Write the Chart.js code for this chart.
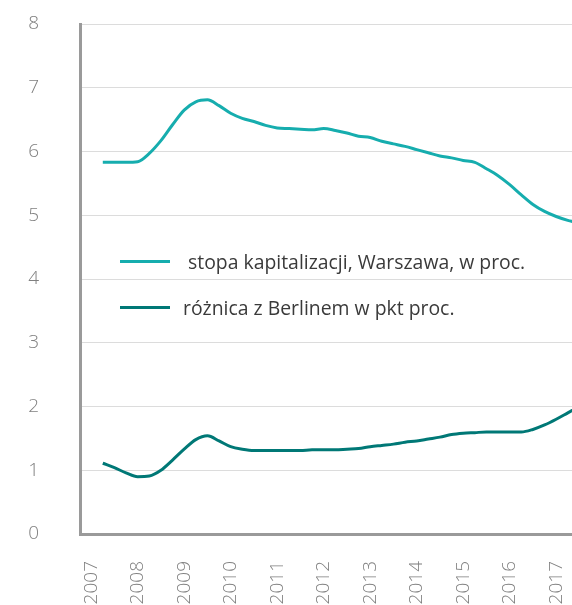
<!DOCTYPE html>
<html>
<head>
<meta charset="utf-8">
<script src="https://cdn.jsdelivr.net/npm/chart.js@4/dist/chart.umd.min.js"></script>
<style>
  html, body { margin: 0; padding: 0; background: #fff; overflow: hidden; }
  .wrap { position: relative; width: 572px; height: 605px; }
  .legend { position: absolute; left: 0; top: 0; font-family: "Open Sans", sans-serif; font-size: 19.4px; color: #3a3a3a; }
  .legend .item { position: absolute; white-space: nowrap; display: flex; align-items: center; height: 26px; }
  .legend .swatch { width: 50px; height: 3px; }
</style>
</head>
<body>
<div class="wrap">
  <canvas id="chart" width="572" height="605"></canvas>
  <div class="legend" id="legend"></div>
</div>
<script>
// quarterly points, as year fractions
const quarters = [
  2007.25, 2007.5, 2007.75,
  2008.0, 2008.25, 2008.5, 2008.75,
  2009.0, 2009.25, 2009.5, 2009.75,
  2010.0, 2010.25, 2010.5, 2010.75,
  2011.0, 2011.25, 2011.5, 2011.75,
  2012.0, 2012.25, 2012.5, 2012.75,
  2013.0, 2013.25, 2013.5, 2013.75,
  2014.0, 2014.25, 2014.5, 2014.75,
  2015.0, 2015.25, 2015.5, 2015.75,
  2016.0, 2016.25, 2016.5, 2016.75,
  2017.0, 2017.25, 2017.5
];
const capRate = [
  5.83, 5.83, 5.83,
  5.84, 5.97, 6.17, 6.42,
  6.65, 6.78, 6.81, 6.72,
  6.60, 6.52, 6.47, 6.41,
  6.37, 6.36, 6.35, 6.34,
  6.36, 6.33, 6.29, 6.24,
  6.22, 6.16, 6.12, 6.08,
  6.03, 5.98, 5.93, 5.90,
  5.86, 5.83, 5.73, 5.62,
  5.48, 5.32, 5.17, 5.06,
  4.98, 4.92, 4.88
];
const berlinSpread = [
  1.11, 1.04, 0.96,
  0.90, 0.91, 1.00, 1.16,
  1.33, 1.48, 1.54, 1.46,
  1.37, 1.33, 1.31, 1.31,
  1.31, 1.31, 1.31, 1.32,
  1.32, 1.32, 1.33, 1.34,
  1.37, 1.39, 1.41, 1.44,
  1.46, 1.49, 1.52, 1.56,
  1.58, 1.59, 1.60, 1.60,
  1.60, 1.60, 1.64, 1.71,
  1.80, 1.90, 2.00
];
const yearTicks = [2007, 2008, 2009, 2010, 2011, 2012, 2013, 2014, 2015, 2016, 2017];
const yTicks = [0, 1, 2, 3, 4, 5, 6, 7, 8];
const seriesNames = ['stopa kapitalizacji, Warszawa, w proc.', 'różnica z Berlinem w pkt proc.'];
const seriesColors = ['#16adae', '#007876'];

const toPoints = (vals) => vals.map((v, i) => ({ x: quarters[i], y: v }));

const tickFont = { family: '"Open Sans", sans-serif', size: 19, weight: 300 };

const chart = new Chart(document.getElementById('chart'), {
  type: 'line',
  data: {
    datasets: [
      {
        label: seriesNames[0],
        data: toPoints(capRate),
        borderColor: seriesColors[0],
        borderWidth: 3,
        pointRadius: 0,
        cubicInterpolationMode: 'monotone',
        fill: false,
      },
      {
        label: seriesNames[1],
        data: toPoints(berlinSpread),
        borderColor: seriesColors[1],
        borderWidth: 3,
        pointRadius: 0,
        cubicInterpolationMode: 'monotone',
        fill: false,
      },
    ],
  },
  options: {
    responsive: false,
    animation: false,
    layout: { padding: { top: 24, right: 0, left: 0, bottom: 0 } },
    plugins: {
      legend: { display: false },
      tooltip: { enabled: false },
    },
    scales: {
      x: {
        type: 'linear',
        min: 2006.76,
        max: 2017.34,
        afterBuildTicks: (scale) => { scale.ticks = yearTicks.map(v => ({ value: v })); },
        afterFit: (scale) => {
          scale.height = 71;
          scale.paddingLeft = 0;
          scale.paddingRight = 0;
        },
        grid: { display: false, drawTicks: false },
        border: { display: true, color: '#9a9a9a', width: 3 },
        ticks: {
          minRotation: 90,
          maxRotation: 90,
          autoSkip: false,
          padding: 27,
          color: '#808080',
          font: tickFont,
          callback: (v) => String(v),
        },
      },
      y: {
        min: 0,
        max: 8,
        afterBuildTicks: (scale) => { scale.ticks = yTicks.map(v => ({ value: v })); },
        afterFit: (scale) => {
          scale.width = 80;
          scale.paddingTop = 0;
          scale.paddingBottom = 0;
        },
        grid: { color: '#dcdcdc', lineWidth: 1, drawTicks: false },
        border: { display: true, color: '#9a9a9a', width: 3 },
        ticks: {
          padding: 41,
          color: '#808080',
          font: tickFont,
        },
      },
    },
  },
});

// legend placed inside the plot, as in the original
const legendEl = document.getElementById('legend');
const legendPos = [
  { left: 120, top: 248, gap: 18 },
  { left: 120, top: 294, gap: 13 },
];
seriesNames.forEach((name, i) => {
  const item = document.createElement('div');
  item.className = 'item';
  item.style.left = legendPos[i].left + 'px';
  item.style.top = legendPos[i].top + 'px';
  const sw = document.createElement('span');
  sw.className = 'swatch';
  sw.style.background = seriesColors[i];
  sw.style.marginRight = legendPos[i].gap + 'px';
  const txt = document.createElement('span');
  txt.textContent = name;
  item.appendChild(sw);
  item.appendChild(txt);
  legendEl.appendChild(item);
});
</script>
</body>
</html>
